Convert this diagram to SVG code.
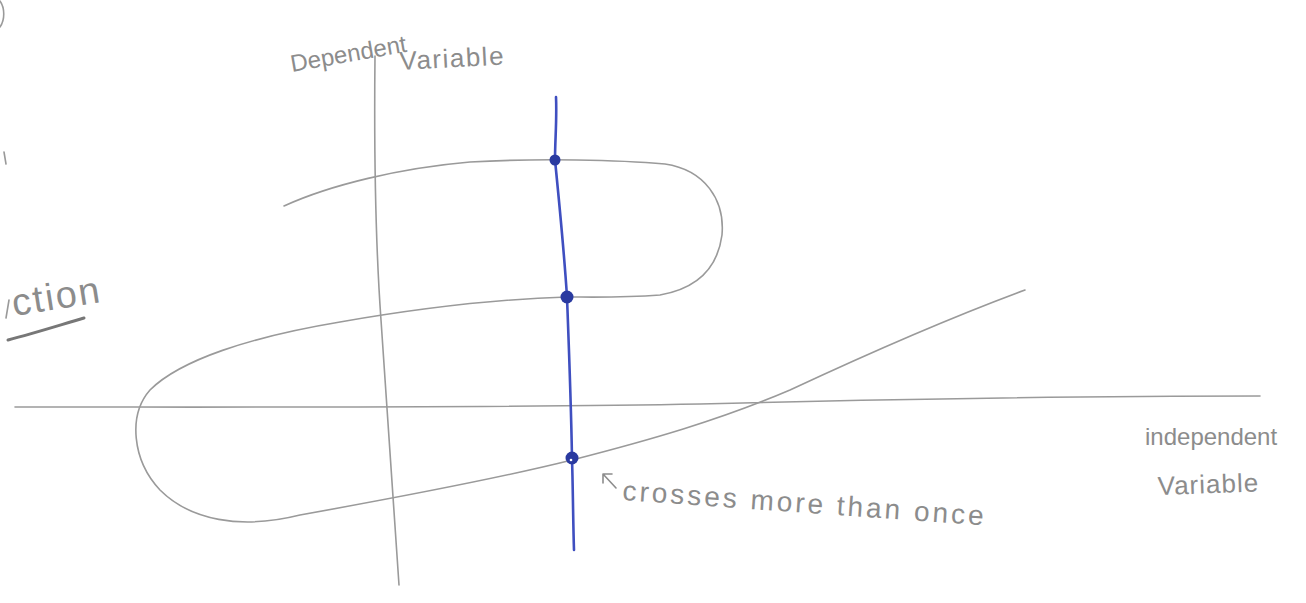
<svg xmlns="http://www.w3.org/2000/svg" width="1306" height="603" viewBox="0 0 1306 603">
<style>
.pen{fill:none;stroke:#9a9a9a;stroke-width:1.6;stroke-linecap:round;stroke-linejoin:round}
.ink{fill:none;stroke:#3f4fc0;stroke-width:2.6;stroke-linecap:round}
.dot{fill:#2a3aa0}
.hw{font-family:"Liberation Sans",Arial,sans-serif;fill:#8c8c8c;font-weight:300}
</style>
<rect width="1306" height="603" fill="#ffffff"/>
<g id="margin-marks">
<path class="pen" d="M0,1 C5,8 5,20 0,27"/>
<path class="pen" d="M4,152 L6,164" stroke="#c8c8c8"/>
<path class="pen" d="M6,318 L9,300"/>
<text class="hw" x="14" y="316" font-size="38" letter-spacing="2" transform="rotate(-9 14 316)">ction</text>
<path d="M8,340 C35,333 60,325 84,318" fill="none" stroke="#777" stroke-width="3" stroke-linecap="round"/>
</g>
<g id="axes">
<path id="y-axis" class="pen" d="M375,56 C374,150 376,250 381,320 C386,400 392,480 399,585"/>
<path id="x-axis" class="pen" d="M15,407 C250,407 500,408 700,404 C900,399 1100,396 1260,396"/>
</g>
<g id="labels">
<text class="hw" x="292" y="72" font-size="24" transform="rotate(-10 292 72)">Dependent</text>
<text class="hw" x="400" y="70" font-size="26" letter-spacing="1.5" transform="rotate(-3 400 70)">Variable</text>
<text class="hw" x="1145" y="445" font-size="24">independent</text>
<text class="hw" x="1158" y="495" font-size="26" letter-spacing="1" transform="rotate(-2 1158 495)">Variable</text>
</g>
<g id="curve">
<path class="pen" d="M284,206 C330,185 400,168 470,162 C540,158 620,160 665,164 C705,170 725,200 722,235 C718,265 700,288 660,295 C620,298 590,297 567,297 C500,299 420,308 340,322 C250,337 180,360 150,390 C128,415 132,460 160,490 C190,520 240,530 300,515 C400,497 500,478 572,460 C650,440 720,420 790,390 C880,348 960,314 1025,290"/>
</g>
<g id="connectors">
<path id="vertical-line-test" class="ink" d="M556,97 C557,120 555,140 555,160 C559,200 564,250 567,297 C569,350 571,400 572,458 C573,490 573,520 574,550"/>
<path id="note-arrow" d="M616,488 L603,474 M603,474 L603,483 M603,474 L612,474" fill="none" stroke="#8c8c8c" stroke-width="1.6" stroke-linecap="round"/>
</g>
<g id="intersections">
<circle class="dot" cx="555" cy="160" r="5.5"/>
<circle class="dot" cx="567" cy="297" r="6.5"/>
<circle class="dot" cx="572" cy="458" r="6.5"/>
<circle cx="571" cy="460" r="1.3" fill="#ffffff"/>
</g>
<g id="note">
<text class="hw" x="622" y="500" font-size="28" letter-spacing="3" transform="rotate(4 622 500)">crosses more than once</text>
</g>
</svg>
